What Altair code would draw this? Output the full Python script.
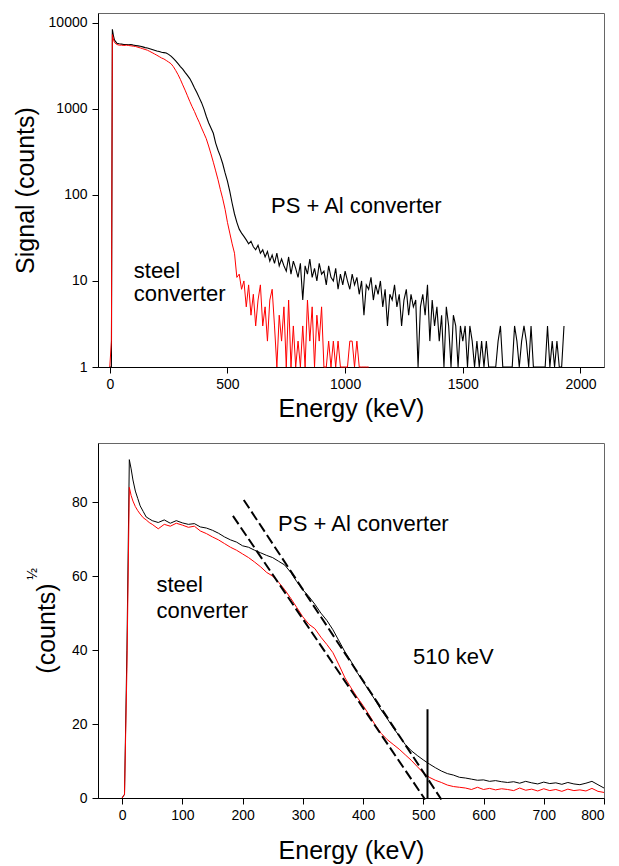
import altair as alt
import pandas as pd

FONT = "Liberation Sans"

# ---------------- top panel: counts vs energy (log) ----------------
top_head_E = [0, 7, 11, 15, 20]
top_black_head = [1, 1, 8400, 7200, 6300]
top_red_head = [1, 2, 7300, 6500, 5900]
top_tail_start = 30
top_tail_step = 10
top_black_tail = [
    5800, 5700, 5650, 5600, 5600, 5550, 5600, 5500, 5450, 5400,
    5350, 5250, 5150, 5100, 5000, 4900, 4800, 4700, 4650, 4550,
    4500, 4450, 4300, 4100, 3850, 3600, 3350, 3100, 2900, 2650,
    2450, 2250, 2000, 1750, 1550, 1350, 1180, 1000, 820, 690,
    600, 520, 400, 330, 280, 230, 180, 145, 110, 80,
    60, 48, 40, 36, 33, 30, 27, 29, 25, 23,
    26, 21, 23, 19, 22, 17, 20, 16, 21, 15,
    18, 15, 13, 19, 12, 17, 14, 11, 16, 6,
    15, 12, 18, 11, 14, 10, 16, 12, 13, 9,
    15, 11, 10, 14, 8, 12, 9, 13, 10, 8,
    12, 9, 11, 7, 10, 4, 9, 8, 11, 6,
    9, 7, 10, 5, 8, 3, 7, 6, 9, 5,
    7, 3, 6, 8, 4, 7, 5, 6, 1, 5,
    7, 4, 9, 2, 6, 3, 5, 2, 4, 1,
    5, 3, 1, 4, 3, 1, 3, 2, 3, 1,
    3, 2, 1, 2, 1, 2, 1, 2, 1, 1,
    1, 1, 2, 3, 1, 1, 1, 1, 1, 3,
    2, 1, 2, 3, 2, 1, 3, 1, 1, 1,
    1, 1, 1, 3, 1, 2, 1, 2, 1, 1, 3,
]
top_red_tail = [
    5600, 5500, 5500, 5450, 5500, 5450, 5400, 5350, 5300, 5200,
    5100, 5000, 4900, 4800, 4650, 4500, 4350, 4200, 4050, 3900,
    3800, 3650, 3500, 3350, 3100, 2800, 2500, 2200, 1900, 1650,
    1420, 1220, 1060, 930, 800, 700, 600, 520, 450, 370,
    300, 240, 190, 150, 115, 90, 68, 48, 36, 27,
    21, 11, 12, 8, 10, 5, 9, 4, 7, 3,
    6, 9, 3, 5, 2, 6, 8, 3, 1, 4,
    2, 5, 1, 6, 1, 3, 1, 2, 1, 3,
    1, 6, 2, 5, 1, 4, 2, 5, 1, 1,
    2, 1, 2, 1, 2, 1, 1, 1, 1, 2,
    2, 1, 2, 1, 1, 1, 1, 1,
]

# ---------------- bottom panel: sqrt(counts) vs energy ----------------
bot_head_E = [0, 4, 8, 12, 15, 18, 22, 26, 30, 35, 40, 45]
bot_black_head = [0, 1, 40, 91.5, 89, 86, 83, 81, 79, 77.5, 76, 75.5]
bot_red_head = [0, 1, 35, 84, 81.8, 80.3, 78.8, 77.7, 76.8, 75.8, 75.2, 74.5]
bot_tail_start = 50
bot_tail_step = 10
bot_black_tail = [
    75, 74.5, 75.2, 74.3, 75, 74.4, 74, 74.2, 73.3, 73,
    72.4, 71.6, 70.6, 69.8, 69.2, 68.2, 67.8, 67, 66.3, 65.6,
    65, 64, 63, 61, 58.5, 56.3, 54.5, 52.4, 50, 48,
    45.5, 42.5, 39.5, 37, 34, 31.5, 29, 26.5, 23.8, 21.5,
    19, 16.8, 14.5, 12.8, 11.5, 10.3, 9.2, 8.2, 7.3, 6.6,
    6.2, 5.6, 5.4, 5.1, 4.8, 4.9, 4.5, 4.7, 4.4, 4.2,
    4.4, 4.0, 4.5, 4.1, 3.8, 4.3, 3.9, 4.1, 3.7, 4.2,
    3.8, 3.6, 4.0, 4.5, 3.6, 2.7,
]
bot_red_tail = [
    74, 72.8, 74, 73.5, 74.3, 73.8, 73.2, 73.5, 72.2, 71.5,
    70.6, 69.8, 68.8, 67.8, 67, 66, 65, 63.8, 62.5, 61,
    60, 58.3, 56.3, 54, 51.5, 49, 47, 45.8, 43.5, 41.5,
    39.3, 36, 32.5, 29.8, 27.3, 25, 22.5, 19.8, 17.5, 15.8,
    14.5, 13.2, 11.7, 10.2, 8.5, 6.8, 5.6, 4.8, 4.2, 3.5,
    3.1, 2.9, 2.7, 2.3, 2.9, 2.3, 2.6, 2.2, 2.5, 2.3,
    2.0, 2.7, 2.1, 2.4, 1.9, 2.5, 2.0, 2.3, 1.8, 2.4,
    2.0, 2.2, 1.9, 2.6, 1.8, 1.5,
]

# linear fits (dashed lines): energy / sqrt(counts) end points
fit_names = ["PS + Al", "PS + Al", "steel", "steel"]
fit_E = [202, 530, 184, 503]
fit_v = [80.6, -0.4, 76.3, -0.4]

marker_E = [507]
marker_bottom = [0]
marker_top = [24]

# annotations (data coordinates, left aligned, alphabetic baseline)
top_ann_text = ["PS + Al converter", "steel", "converter"]
top_ann_E = [685, 102, 102]
top_ann_c = [62, 10.9, 5.85]
bot_ann_text = ["PS + Al converter", "steel", "converter", "510 keV"]
bot_ann_E = [259, 57, 57, 483]
bot_ann_v = [72.3, 55.6, 48.8, 36.2]


def series(head_E, head_vals, start, step, tail):
    E = head_E + [start + step * i for i in range(len(tail))]
    return pd.DataFrame({"E": E, "v": head_vals + tail})


top_black = series(top_head_E, top_black_head, top_tail_start, top_tail_step, top_black_tail)
top_red = series(top_head_E, top_red_head, top_tail_start, top_tail_step, top_red_tail)
bot_black = series(bot_head_E, bot_black_head, bot_tail_start, bot_tail_step, bot_black_tail)
bot_red = series(bot_head_E, bot_red_head, bot_tail_start, bot_tail_step, bot_red_tail)

W = 506

# ---------- top chart ----------
tx = alt.X("E:Q", scale=alt.Scale(domain=[-50, 2100], nice=False, zero=False),
           axis=alt.Axis(values=[0, 500, 1000, 1500, 2000], format="d",
                         title="Energy (keV)", titlePadding=5))
ty = alt.Y("v:Q", scale=alt.Scale(type="log", domain=[1, 13000], nice=False),
           axis=alt.Axis(values=[1, 10, 100, 1000, 10000], format="d",
                         title="Signal (counts)", titlePadding=10))

top_b = alt.Chart(top_black).mark_line(color="#000000", strokeWidth=1.1).encode(x=tx, y=ty)
top_r = alt.Chart(top_red).mark_line(color="#ff0000", strokeWidth=1).encode(x=tx, y=ty)
top_ann = alt.Chart(pd.DataFrame({"t": top_ann_text, "E": top_ann_E, "v": top_ann_c})).mark_text(
    align="left", baseline="alphabetic", font=FONT, fontSize=22, color="#000"
).encode(x="E:Q", y="v:Q", text="t:N")

top = alt.layer(top_b, top_r, top_ann).properties(width=W, height=354)

# ---------- bottom chart ----------
bx = alt.X("E:Q", scale=alt.Scale(domain=[-40, 800], nice=False, zero=False),
           axis=alt.Axis(values=[0, 100, 200, 300, 400, 500, 600, 700, 800],
                         format="d", title="Energy (keV)", titlePadding=16))
by = alt.Y("v:Q", scale=alt.Scale(domain=[0, 96], nice=False, zero=False),
           axis=alt.Axis(values=[0, 20, 40, 60, 80], title="(counts)",
                         titlePadding=12, titleY=185))

bot_b = alt.Chart(bot_black).mark_line(color="#000000", strokeWidth=1).encode(x=bx, y=by)
bot_r = alt.Chart(bot_red).mark_line(color="#ff0000", strokeWidth=1).encode(x=bx, y=by)
fits = alt.Chart(pd.DataFrame({"fit": fit_names, "E": fit_E, "v": fit_v})).mark_line(
    color="#000000", strokeWidth=2, strokeDash=[10, 4]
).encode(x="E:Q", y="v:Q", detail="fit:N")
marker = alt.Chart(pd.DataFrame({"E": marker_E, "v": marker_bottom, "top": marker_top})).mark_rule(
    color="#000000", strokeWidth=2
).encode(x="E:Q", y="v:Q", y2="top:Q")
bot_ann = alt.Chart(pd.DataFrame({"t": bot_ann_text, "E": bot_ann_E, "v": bot_ann_v})).mark_text(
    align="left", baseline="alphabetic", font=FONT, fontSize=22, color="#000"
).encode(x="E:Q", y="v:Q", text="t:N")
half = alt.Chart(pd.DataFrame({"t": ["½"]})).mark_text(
    font=FONT, fontSize=14, angle=270, align="center", baseline="middle", color="#000"
).encode(x=alt.value(-65), y=alt.value(131), text="t:N")

bottom = alt.layer(bot_b, bot_r, fits, marker, bot_ann, half).properties(width=W, height=355)

chart = alt.vconcat(top, bottom, spacing=76, bounds="flush").properties(
    padding={"left": 12, "top": 12, "right": 12, "bottom": 2}
).configure_view(stroke="#666666", strokeWidth=1).configure_axis(
    grid=False,
    labelFont=FONT, titleFont=FONT,
    labelFontSize=14, titleFontSize=25, titleFontWeight="normal",
    labelColor="#000", titleColor="#000",
    domainColor="#000", tickColor="#000", tickSize=6, labelPadding=4,
).configure_axisY(labelPadding=5)

chart.save("out.html", embed_options={"renderer": "svg", "actions": False})
